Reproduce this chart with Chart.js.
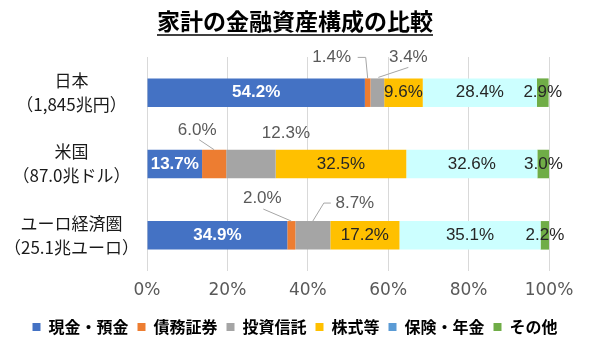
<!DOCTYPE html>
<html><head><meta charset="utf-8">
<script src="https://cdn.jsdelivr.net/npm/chart.js@4"></script>
<style>html,body{margin:0;padding:0;background:#fff}#wrap{width:590px;height:348px;position:relative}</style>
</head><body><div id="wrap"><canvas id="c"></canvas></div>
<script>
// ---- data ----
const categories = [["日本","（1,845兆円）"],["米国","（87.0兆ドル）"],["ユーロ経済圏","（25.1兆ユーロ）"]];
const seriesNames = ["現金・預金","債務証券","投資信託","株式等","保険・年金","その他"];
const cashDeposits = [54.2, 13.7, 34.9];
const debtSecurities = [1.4, 6.0, 2.0];
const investmentTrusts = [3.4, 12.3, 8.7];
const equities = [9.6, 32.5, 17.2];
const insurancePension = [28.4, 32.6, 35.1];
const others = [2.9, 3.0, 2.2];
const xTickValues = [0, 20, 40, 60, 80, 100];
const xTickLabels = ["0%", "20%", "40%", "60%", "80%", "100%"];
const titleText = "家計の金融資産構成の比較";

// ---- style ----
const fills = ['#4472C4','#ED7D31','#A5A5A5','#FFC000','#CCFFFF','#70AD47'];
const legendFills = ['#4472C4','#ED7D31','#A5A5A5','#FFC000','#5B9BD5','#70AD47'];
const seriesValues = [cashDeposits, debtSecurities, investmentTrusts, equities, insurancePension, others];
const JP = '"Noto Sans CJK JP", "Noto Sans", sans-serif';
const LAT = '"Liberation Sans", Arial, sans-serif';
// label placement for small segments (offsets from segment centre / bar top)
const outside = {
  '0:1': {dx:-36, dy:-21, line:[[-10,-21],[-2,-21],[0,0]]},
  '0:2': {dx:31, dy:-21, line:[[31,-11],[1,-1]]},
  '1:1': {dx:-17, dy:-19, line:[[-15,-10],[0,0]]},
  '1:2': {dx:35, dy:-16, line:null},
  '2:1': {dx:-29, dy:-23, line:[[-28,-12],[0,0]]},
  '2:2': {dx:42, dy:-18, line:[[18,-18],[11,-18],[0,0]]}
};

const labelPlugin = {
  id: 'barLabels',
  afterDatasetsDraw(chart) {
    const ctx = chart.ctx;
    chart.data.datasets.forEach((ds, di) => {
      const meta = chart.getDatasetMeta(di);
      meta.data.forEach((el, ri) => {
        const v = ds.data[ri];
        const txt = v.toFixed(1) + '%';
        const cx = (el.x + el.base) / 2;
        const top = el.y - el.height / 2;
        const o = outside[ri + ':' + di];
        ctx.save();
        ctx.textAlign = 'center';
        ctx.textBaseline = 'middle';
        if (o) {
          if (o.line) {
            ctx.strokeStyle = '#A6A6A6';
            ctx.lineWidth = 1;
            ctx.beginPath();
            o.line.forEach((p, k) => {
              const X = cx + p[0], Y = top + p[1];
              if (k === 0) ctx.moveTo(X, Y); else ctx.lineTo(X, Y);
            });
            ctx.stroke();
          }
          ctx.font = '17px ' + LAT;
          ctx.fillStyle = '#595959';
          ctx.fillText(txt, cx + o.dx, top + o.dy);
        } else {
          if (di === 0) {
            ctx.font = 'bold 17px ' + LAT;
            ctx.fillStyle = '#FFFFFF';
          } else {
            ctx.font = '17px ' + LAT;
            ctx.fillStyle = '#262626';
          }
          ctx.fillText(txt, cx, el.y);
        }
        ctx.restore();
      });
    });
  }
};

const underlinePlugin = {
  id: 'titleUnderline',
  afterDraw(chart) {
    const tb = chart.titleBlock;
    if (!tb) return;
    const ctx = chart.ctx;
    ctx.save();
    ctx.font = 'bold 23px ' + JP;
    const w = ctx.measureText(titleText).width;
    const cx = (tb.left + tb.right) / 2;
    const y = 35;
    ctx.strokeStyle = '#000';
    ctx.lineWidth = 1.5;
    ctx.beginPath();
    ctx.moveTo(cx - w / 2, y);
    ctx.lineTo(cx + w / 2, y);
    ctx.stroke();
    ctx.restore();
  }
};

new Chart(document.getElementById('c'), {
  type: 'bar',
  data: {
    labels: categories,
    datasets: seriesValues.map((v, i) => ({
      label: seriesNames[i],
      data: v,
      backgroundColor: fills[i],
      borderWidth: 0,
      barPercentage: 0.5,
      categoryPercentage: 0.8
    }))
  },
  options: {
    indexAxis: 'y',
    responsive: true,
    maintainAspectRatio: false,
    animation: false,
    layout: { padding: { top: 3, left: 0, right: 0, bottom: 3 } },
    scales: {
      x: {
        stacked: true,
        min: 0, max: 100,
        afterBuildTicks(scale) { scale.ticks = xTickValues.map(v => ({ value: v })); },
        grid: { color: '#D9D9D9', lineWidth: 1, drawTicks: false },
        border: { display: false },
        ticks: {
          padding: 4,
          color: '#595959',
          font: { family: '"DejaVu Sans", sans-serif', size: 17, lineHeight: '31px' },
          callback: (v) => xTickLabels[xTickValues.indexOf(v)]
        }
      },
      y: {
        stacked: true,
        grid: { display: false, drawTicks: false },
        border: { display: false },
        afterFit(scale) { scale.width = 147; },
        ticks: {
          crossAlign: 'center',
          padding: 8,
          color: '#1a1a1a',
          font: { family: JP, size: 17, lineHeight: '24px' }
        }
      },
      yRight: {
        type: 'category',
        position: 'right',
        grid: { display: false, drawTicks: false },
        border: { display: false },
        ticks: { display: false },
        afterFit(scale) { scale.width = 41; }
      }
    },
    plugins: {
      title: {
        display: true,
        text: titleText,
        color: '#000',
        font: { family: JP, size: 23, weight: 'bold', lineHeight: 1.2 },
        padding: { top: 4, bottom: 22.4 }
      },
      legend: {
        position: 'bottom',
        labels: {
          boxWidth: 8,
          boxHeight: 8,
          padding: 9,
          color: '#262626',
          font: { family: JP, size: 16, weight: 'bold' },
          generateLabels(chart) {
            return chart.data.datasets.map((ds, i) => ({
              text: ds.label,
              fillStyle: legendFills[i],
              strokeStyle: legendFills[i],
              lineWidth: 0,
              hidden: false,
              datasetIndex: i
            }));
          }
        }
      },
      tooltip: { enabled: false }
    }
  },
  plugins: [labelPlugin, underlinePlugin]
});
</script>
</body></html>
